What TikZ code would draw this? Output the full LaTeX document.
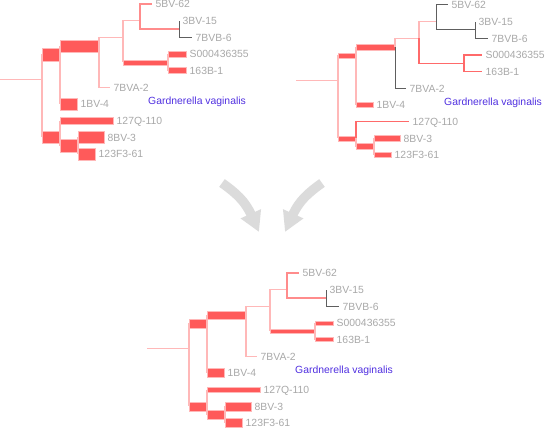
\documentclass[tikz,border=0pt]{standalone}
\usepackage{fontspec}
\setmainfont{Liberation Sans}
\usepackage{tikz}
\usetikzlibrary{positioning,arrows.meta,calc}
\definecolor{TreeRed}{HTML}{FF5A5A}
\definecolor{TreeLine}{HTML}{FF6A6A}
\definecolor{TreePale}{HTML}{FFB8B8}
\definecolor{TreePink}{HTML}{FF8C8C}
\definecolor{TreeGrey}{HTML}{5E5E5E}
\definecolor{LeafGrey}{HTML}{A8A8A8}
\definecolor{SpeciesBlue}{HTML}{5030E0}
\tikzset{
  paleline/.style={draw=TreePale,line width=1.1pt},
  pinkline/.style={draw=TreePink,line width=1.1pt},
  greyline/.style={draw=TreeGrey,line width=1pt},
  redline/.style={draw=TreeLine,line width=1.5pt},
  fatbox/.style={fill=TreeRed,draw=TreePale,line width=0.5pt},
  leaf/.style={text=LeafGrey,inner sep=0pt,text height=7.5pt,text depth=0pt,font=\fontsize{10.4}{12}\selectfont},
  species/.style={text=SpeciesBlue,inner sep=0pt,text height=7.5pt,text depth=0pt,font=\fontsize{10.4}{12}\selectfont},
  bigarr/.style={draw=black!14,line width=9.5pt,-{Triangle[width=21pt,length=20pt]}},
}
\newcommand\thinedge[3][paleline]{\draw[#1] (#2) |- (#3);}
\newcommand\fatedge[3]{%
  \draw[paleline] (#2) -- (#2 |- #3);
  \filldraw[fatbox] ($(#2 |- #3)+(0,#1/2)$) rectangle ($(#3)+(0,-#1/2)$);}
\newcommand\treeframe{%
  \coordinate (S) at (0,79.2);
  \coordinate (R) at (42,79.2);
  \coordinate (A) at (60,54.3);
  \coordinate (B) at (99,46);
  \coordinate (C) at (123,37.3);
  \coordinate (D) at (140,20.7);
  \coordinate (E) at (168,62.3);
  \coordinate (F) at (179,29);
  \coordinate (G) at (60,137.3);
  \coordinate (H) at (78,145.7);
  \foreach \n/\x/\y/\txt in {1/152/4/5BV-62, 2/179/20.7/3BV-15, 3/192/37.3/7BVB-6,
      4/186/54/S000436355, 5/186/70.7/163B-1, 6/110/87.3/7BVA-2, 7/77/104/1BV-4,
      8/113/120.7/127Q-110, 9/104/137.3/8BV-3, 10/95/154/123F3-61}{
    \coordinate (l\n) at (\x,\y);
    \node[leaf, right=3.5pt of l\n] (t\n) {\txt};
  }
  \node[species, anchor=west] (gv) at (148,101) {Gardnerella vaginalis};
}

\begin{document}
\begin{tikzpicture}[x=1pt, y=-1pt]
\useasboundingbox (0,0) rectangle (545,428);

\begin{scope}[name prefix=p-]
\treeframe
\thinedge{S}{R}
\fatedge{12}{R}{G}
\fatedge{13}{R}{A}
\fatedge{12}{A}{l7}
\fatedge{12}{A}{B}
\thinedge{B}{l6}
\thinedge{B}{C}
\thinedge{C}{D}
\fatedge{5}{C}{E}
\thinedge[pinkline]{D}{l1}
\thinedge[pinkline]{D}{F}
\thinedge[greyline]{F}{l2}
\thinedge[greyline]{F}{l3}
\fatedge{6}{E}{l4}
\fatedge{6}{E}{l5}
\fatedge{7}{G}{l8}
\fatedge{13}{G}{H}
\fatedge{12}{H}{l9}
\fatedge{12}{H}{l10}
\end{scope}

\begin{scope}[shift={(296,1)}, name prefix=q-]
\treeframe
\thinedge{S}{R}
\fatedge{5}{R}{G}
\fatedge{5}{R}{A}
\fatedge{5}{A}{l7}
\fatedge{6}{A}{B}
\thinedge[greyline]{B}{l6}
\thinedge{B}{C}
\thinedge{C}{D}
\thinedge[redline]{C}{E}
\thinedge[greyline]{D}{l1}
\thinedge[greyline]{D}{F}
\thinedge[greyline]{F}{l2}
\thinedge[greyline]{F}{l3}
\thinedge[redline]{E}{l4}
\thinedge[redline]{E}{l5}
\thinedge[redline]{G}{l8}
\fatedge{6}{G}{H}
\fatedge{6}{H}{l9}
\fatedge{5}{H}{l10}
\end{scope}

\begin{scope}[shift={(147,269)}, name prefix=r-]
\treeframe
\thinedge{S}{R}
\fatedge{9}{R}{G}
\fatedge{9}{R}{A}
\fatedge{9}{A}{l7}
\fatedge{8}{A}{B}
\thinedge{B}{l6}
\thinedge{B}{C}
\thinedge{C}{D}
\fatedge{4}{C}{E}
\thinedge[pinkline]{D}{l1}
\thinedge[pinkline]{D}{F}
\thinedge[greyline]{F}{l2}
\thinedge[greyline]{F}{l3}
\fatedge{4}{E}{l4}
\fatedge{4}{E}{l5}
\fatedge{5}{G}{l8}
\fatedge{9}{G}{H}
\fatedge{9}{H}{l9}
\fatedge{9}{H}{l10}
\end{scope}

\coordinate (arrl-start) at (222,183);
\coordinate (arrl-tip) at (259,232);
\coordinate (arrr-start) at (322,183);
\coordinate (arrr-tip) at (285,232);
\draw[bigarr] (arrl-start) .. controls +(14,10) and +(-14,-31) .. (arrl-tip);
\draw[bigarr] (arrr-start) .. controls +(-14,10) and +(14,-31) .. (arrr-tip);
\end{tikzpicture}
\end{document}
